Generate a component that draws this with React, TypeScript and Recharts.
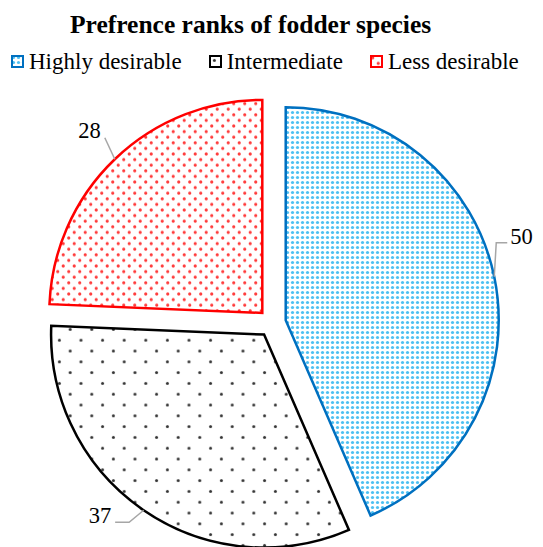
import { PieChart, Pie, Cell, Legend } from "recharts";

const categories = ["Highly desirable", "Intermediate", "Less desirable"];
const values = [50, 37, 28];

const strokeColors = ["#0070C0", "#000000", "#FF0000"];
const patternIds = ["dotsBlue", "dotsBlack", "dotsRed"];

const data = categories.map((name, i) => ({ name, value: values[i] }));

const RAD = Math.PI / 180;
const CX = 272;
const CY = 323;
const R = 213;
const EXPLODE = 14;
const SERIF = '"Liberation Serif", "Times New Roman", serif';

// leader line bends, relative to the point where the line leaves the slice
const leaders = [
  { pts: [[2, -34], [13, -34]], text: [3, 1], anchor: "start" },
  { pts: [[-14.5, 12], [-28.5, 12]], text: [-4, 1], anchor: "end" },
  { pts: [[-10, -21.5]], text: [-4, 0], anchor: "end" },
];

const total = values.reduce((a, b) => a + b, 0);
const midAngles = values.map((v, i) => {
  const before = values.slice(0, i).reduce((a, b) => a + b, 0);
  return 90 - (360 * (before + v / 2)) / total;
});

function Patterns() {
  return (
    <svg width={0} height={0} style={{ position: "absolute" }}>
      <defs>
        <pattern id="dotsBlue" patternUnits="userSpaceOnUse" width={5} height={5}>
          <rect width={5} height={5} fill="#fff" />
          <circle cx={2.5} cy={2.5} r={1.6} fill="#4DC0F2" />
        </pattern>
        <pattern id="dotsRed" patternUnits="userSpaceOnUse" width={11} height={11.2}>
          <rect width={11} height={11.2} fill="#fff" />
          <circle cx={2.75} cy={2.8} r={1.6} fill="#FF3B3B" />
          <circle cx={8.25} cy={8.4} r={1.6} fill="#FF3B3B" />
        </pattern>
        <pattern id="dotsBlack" patternUnits="userSpaceOnUse" width={21.6} height={21.6}>
          <rect width={21.6} height={21.6} fill="#fff" />
          <circle cx={5.4} cy={5.4} r={1.5} fill="#333" />
          <circle cx={16.2} cy={16.2} r={1.5} fill="#333" />
        </pattern>
      </defs>
    </svg>
  );
}

function makeLabel(target: number) {
  return (props: any) => {
    if (props.index !== target) return null;
    const { cx, cy, midAngle, outerRadius } = props;
    const ex = cx + outerRadius * Math.cos(-midAngle * RAD);
    const ey = cy + outerRadius * Math.sin(-midAngle * RAD);
    const cfg = leaders[target];
    const pts = [[ex, ey], ...cfg.pts.map(([dx, dy]) => [ex + dx, ey + dy])];
    const last = pts[pts.length - 1];
    return (
      <g>
        <polyline
          points={pts.map((p) => p.join(",")).join(" ")}
          fill="none"
          stroke="#A6A6A6"
          strokeWidth={1.5}
        />
        <text
          x={last[0] + cfg.text[0]}
          y={last[1] + cfg.text[1]}
          textAnchor={cfg.anchor as any}
          fontFamily={SERIF}
          fontSize={22.5}
          fill="#000"
        >
          {values[target]}
        </text>
      </g>
    );
  };
}

function LegendContent() {
  return (
    <div style={{ display: "flex", alignItems: "center", fontFamily: SERIF, fontSize: 23, lineHeight: "23px" }}>
      {categories.map((c, i) => (
        <div key={c} style={{ display: "flex", alignItems: "center", marginRight: i < 2 ? 27 : 0 }}>
          <svg width={13} height={13} style={{ marginRight: 5 }}>
            <rect x={1} y={1} width={11} height={11} fill={`url(#${patternIds[i]})`} stroke={strokeColors[i]} strokeWidth={2} />
          </svg>
          <span style={{ color: "#000" }}>{c}</span>
        </div>
      ))}
    </div>
  );
}

export default function App() {
  return (
    <div style={{ position: "absolute", left: 0, top: 0, width: 543, height: 547, background: "#fff" }}>
      <Patterns />
      <div
        style={{
          position: "absolute",
          left: 70,
          top: 12,
          fontFamily: SERIF,
          fontWeight: "bold",
          fontSize: 25.5,
          lineHeight: "25.5px",
          whiteSpace: "nowrap",
          color: "#000",
        }}
      >
        Prefrence ranks of fodder species
      </div>
      <PieChart width={543} height={547} margin={{ top: 0, right: 0, bottom: 0, left: 0 }}>
        <Legend
          content={<LegendContent />}
          wrapperStyle={{ position: "absolute", left: 11, top: 50, width: "auto" }}
        />
        {values.map((_, i) => {
          const ox = CX + EXPLODE * Math.cos(midAngles[i] * RAD);
          const oy = CY - EXPLODE * Math.sin(midAngles[i] * RAD);
          return (
            <Pie
              key={i}
              data={data}
              dataKey="value"
              nameKey="name"
              cx={ox}
              cy={oy}
              outerRadius={R}
              startAngle={90}
              endAngle={-270}
              isAnimationActive={false}
              label={makeLabel(i)}
              labelLine={false}
            >
              {data.map((d, j) => (
                <Cell
                  key={d.name}
                  fill={j === i ? `url(#${patternIds[i]})` : "none"}
                  stroke={j === i ? strokeColors[i] : "none"}
                  strokeWidth={2.5}
                />
              ))}
            </Pie>
          );
        })}
      </PieChart>
    </div>
  );
}
